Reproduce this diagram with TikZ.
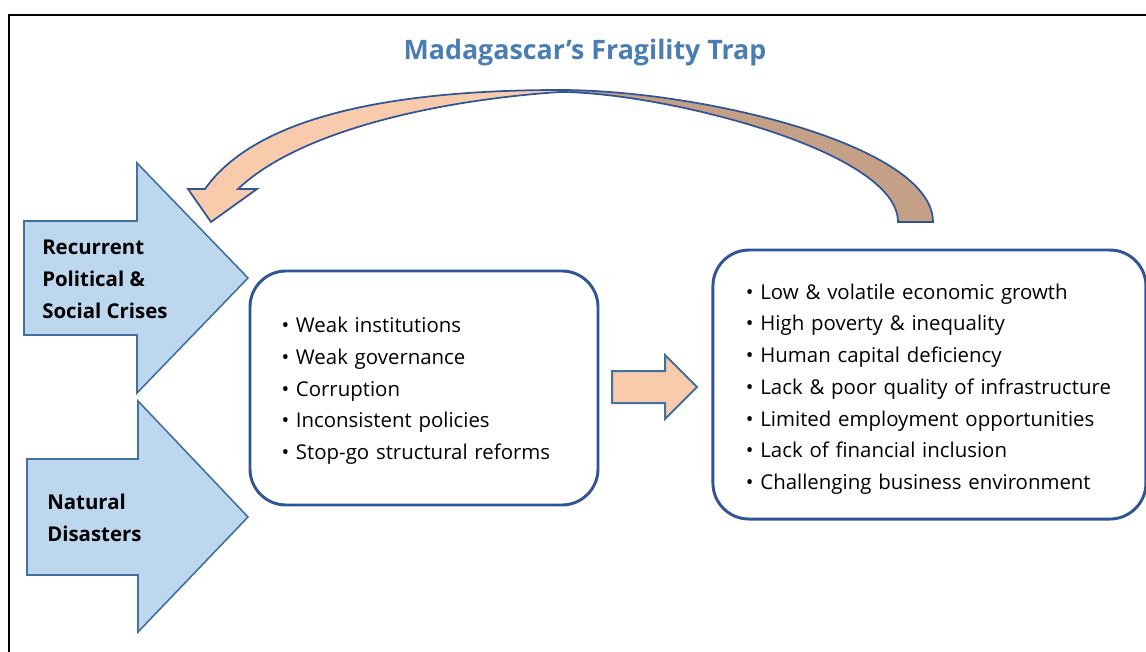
\documentclass[tikz,border=0pt]{standalone}
\usepackage{fontspec}
\setmainfont{Open Sans}
\usetikzlibrary{positioning}
\definecolor{boxblue}{HTML}{2F5597}
\definecolor{edgeblue}{HTML}{41719C}
\definecolor{paleblue}{HTML}{BDD7EE}
\definecolor{peach}{HTML}{F8CBAD}
\definecolor{ribbonback}{HTML}{C4A186}
\definecolor{titleblue}{HTML}{4A7EB3}
\newcommand{\bulletline}[1]{\mbox{\textbullet\ #1}}

\begin{document}
\begin{tikzpicture}[
    x=0.75pt, y=-0.75pt,
    box/.style = {draw=boxblue, line width=2.2pt, rounded corners=27pt,
                  align=left, inner ysep=0pt,
                  font=\fontsize{15.3}{23.8}\selectfont},
    label/.style = {align=left, inner sep=0pt, anchor=west,
                    font=\bfseries\fontsize{15.3}{24}\selectfont},
    blockarrow/.style = {draw=edgeblue, line width=1.2pt, fill=paleblue},
    smallarrow/.style = {draw=edgeblue, line width=1.5pt, fill=peach},
    ribbon/.style = {draw=boxblue, line width=1.3pt}
]
\useasboundingbox (0,0) rectangle (1146,652);

% Frame
\draw[line width=1.5pt] (9,652) -- (9,15) -- (1146,15);

% Title
\node[text=titleblue, font=\bfseries\fontsize{20.1}{24}\selectfont] (title) at (585,53)
    {Madagascar’s Fragility Trap};

% Left arrows
\draw[blockarrow] (24,221) -- (137,221) -- (137,163) -- (248,278)
    -- (137,393) -- (137,335) -- (24,335) -- cycle;
\draw[blockarrow] (27,459) -- (138,459) -- (138,401) -- (248,517)
    -- (138,632) -- (138,575) -- (27,575) -- cycle;
\node[label] (crises) at (42,279) {Recurrent\\Political \&\\Social Crises};
\node[label] (disasters) at (47,518) {Natural\\Disasters};

% Boxes
\node[box, minimum width=261pt, minimum height=175.5pt, text width=213.75pt] (drivers) at (424,388)
    {\rule{0pt}{16pt}\bulletline{Weak institutions}\\
     \bulletline{Weak governance}\\
     \bulletline{Corruption}\\
     \bulletline{Inconsistent policies}\\
     \bulletline{Stop-go structural reforms}};
\node[box, minimum width=324.75pt, minimum height=201.75pt, text width=275.25pt,
      right=84pt of drivers, yshift=2.6pt] (outcomes)
    {\rule{0pt}{18.5pt}\bulletline{Low \& volatile economic growth}\\
     \bulletline{High poverty \& inequality}\\
     \bulletline{Human capital deficiency}\\
     \bulletline{Lack \& poor quality of infrastructure}\\
     \bulletline{Limited employment opportunities}\\
     \bulletline{Lack of financial inclusion}\\
     \bulletline{Challenging business environment}};

% Arrow between boxes
\draw[smallarrow] (612,371) -- (665,371) -- (665,355) -- (697,387)
    -- (665,419) -- (665,403) -- (612,403) -- cycle;

% Feedback arrow
\draw[ribbon, fill=ribbonback] (560,90) .. controls (700,90) and (933,145) .. (933,222)
    -- (898,222) .. controls (898,150) and (660,92) .. (560,92) -- cycle;
\draw[ribbon, fill=peach] (560,90) .. controls (410,90) and (260,111) .. (205,189)
    -- (188,189) -- (211,222) -- (257,189) -- (238,189)
    .. controls (300,130) and (440,100) .. (560,92) -- cycle;

\end{tikzpicture}
\end{document}
